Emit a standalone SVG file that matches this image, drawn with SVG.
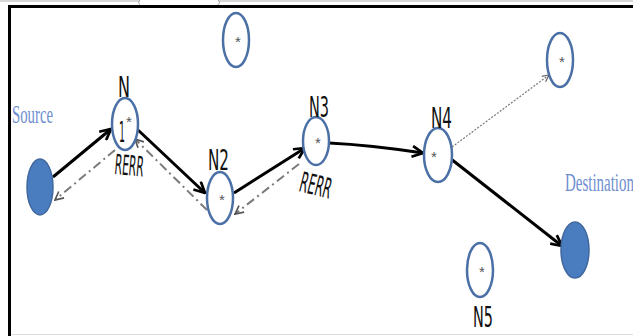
<svg xmlns="http://www.w3.org/2000/svg" width="633" height="336" viewBox="0 0 633 336">
<style>
.node{fill:#fff;stroke:#4b70a6;stroke-width:2.5}
.fnode{fill:#4a7cc0;stroke:#41689f;stroke-width:1.5}
.lbl{font-family:"Liberation Sans Narrow","DejaVu Sans Condensed","Liberation Sans",sans-serif;font-size:28px;fill:#111}
.ast{font-family:"Liberation Sans",sans-serif;font-size:15px;fill:#555;text-anchor:middle}
.blue{font-family:"Liberation Serif",serif;font-size:25px;fill:#6f8fd0}
.solid{stroke:#000;stroke-width:3;fill:none}
.dd{stroke:#7a7a7a;stroke-width:2;fill:none;stroke-dasharray:9 4 2 4}
.dot{stroke:#777;stroke-width:1.2;fill:none;stroke-dasharray:2 1.5}
</style>
<defs>
<marker id="ah" viewBox="0 0 12 12" refX="11" refY="6" markerWidth="13" markerHeight="13" orient="auto" markerUnits="userSpaceOnUse"><path d="M1,1 L11,6 L1,11" fill="none" stroke="#000" stroke-width="2.5"/></marker>
<marker id="ahg" viewBox="0 0 12 12" refX="11" refY="6" markerWidth="10" markerHeight="10" orient="auto" markerUnits="userSpaceOnUse"><path d="M1,1 L11,6 L1,11" fill="none" stroke="#555" stroke-width="2"/></marker>
<marker id="ahd" viewBox="0 0 12 12" refX="11" refY="6" markerWidth="8" markerHeight="8" orient="auto" markerUnits="userSpaceOnUse"><path d="M1,1 L11,6 L1,11" fill="none" stroke="#666" stroke-width="1.8"/></marker>
</defs>
<rect width="633" height="336" fill="#fff"/>
<g id="frame">
<path d="M0,1 H140 M140,0 Q137,3 141,6 M218,0 Q222,3 216,6 M218,1 H633" stroke="#999" stroke-width="0.8" fill="none"/>
<path d="M9.5,336 V6.5 H633" stroke="#000" stroke-width="3" fill="none"/>
<path d="M11,334.5 H633" stroke="#ddd" stroke-width="1" fill="none"/>
</g>
<g id="connectors">
<line class="solid" x1="53" y1="177" x2="111" y2="129" marker-end="url(#ah)"/>
<line class="dd" x1="115" y1="150" x2="55" y2="200" marker-end="url(#ahg)"/>
<line class="solid" x1="138" y1="130" x2="205" y2="193" marker-end="url(#ah)"/>
<line class="dd" x1="207" y1="210" x2="135" y2="139" marker-end="url(#ahg)"/>
<line class="solid" x1="234" y1="193" x2="305" y2="148" marker-end="url(#ah)"/>
<line class="dd" x1="299" y1="164" x2="235" y2="214" marker-end="url(#ahg)"/>
<path class="solid" d="M329,143 Q370,145 423,153" marker-end="url(#ah)"/>
<line class="dot" x1="452" y1="147" x2="549" y2="75" marker-end="url(#ahd)"/>
<line class="solid" x1="451" y1="159" x2="562" y2="246" marker-end="url(#ah)"/>
</g>
<g id="source">
<ellipse class="fnode" cx="40" cy="187" rx="13" ry="28"/>
<text class="blue" x="12" y="123" textLength="41" lengthAdjust="spacingAndGlyphs">Source</text>
</g>
<g id="n1">
<ellipse class="node" cx="125" cy="124" rx="13" ry="26"/>
<text class="lbl" x="118" y="97" textLength="12" lengthAdjust="spacingAndGlyphs">N</text>
<text class="lbl" x="119" y="142" textLength="6" lengthAdjust="spacingAndGlyphs">1</text>
<text class="ast" x="129" y="127">*</text>
<text class="lbl" x="114" y="174" font-size="30" textLength="29" lengthAdjust="spacingAndGlyphs" transform="rotate(5 114 174)">RERR</text>
</g>
<g id="ntop">
<ellipse class="node" cx="236" cy="40" rx="13" ry="27"/>
<text class="ast" x="238" y="47">*</text>
</g>
<g id="n2">
<ellipse class="node" cx="220" cy="198" rx="13" ry="26"/>
<text class="lbl" x="208" y="170" textLength="21" lengthAdjust="spacingAndGlyphs">N2</text>
<text class="ast" x="222" y="205">*</text>
</g>
<g id="n3">
<ellipse class="node" cx="316" cy="141" rx="13" ry="24"/>
<text class="lbl" x="309" y="117" textLength="20" lengthAdjust="spacingAndGlyphs">N3</text>
<text class="ast" x="318" y="148">*</text>
<text class="lbl" x="298" y="191" font-size="30" textLength="32" lengthAdjust="spacingAndGlyphs" transform="rotate(14 298 191)">RERR</text>
</g>
<g id="n4">
<ellipse class="node" cx="438" cy="155" rx="14" ry="27"/>
<text class="lbl" x="431" y="128" textLength="21" lengthAdjust="spacingAndGlyphs">N4</text>
<text class="ast" x="434" y="162">*</text>
</g>
<g id="ntr">
<ellipse class="node" cx="560" cy="60" rx="13" ry="27"/>
<text class="ast" x="562" y="67">*</text>
</g>
<g id="n5">
<ellipse class="node" cx="480" cy="270" rx="13" ry="27"/>
<text class="ast" x="482" y="277">*</text>
<text class="lbl" x="473" y="327" textLength="20" lengthAdjust="spacingAndGlyphs">N5</text>
</g>
<g id="destination">
<ellipse class="fnode" cx="575" cy="250" rx="14" ry="28"/>
<text class="blue" x="565" y="191" textLength="69" lengthAdjust="spacingAndGlyphs">Destination</text>
</g>
</svg>
